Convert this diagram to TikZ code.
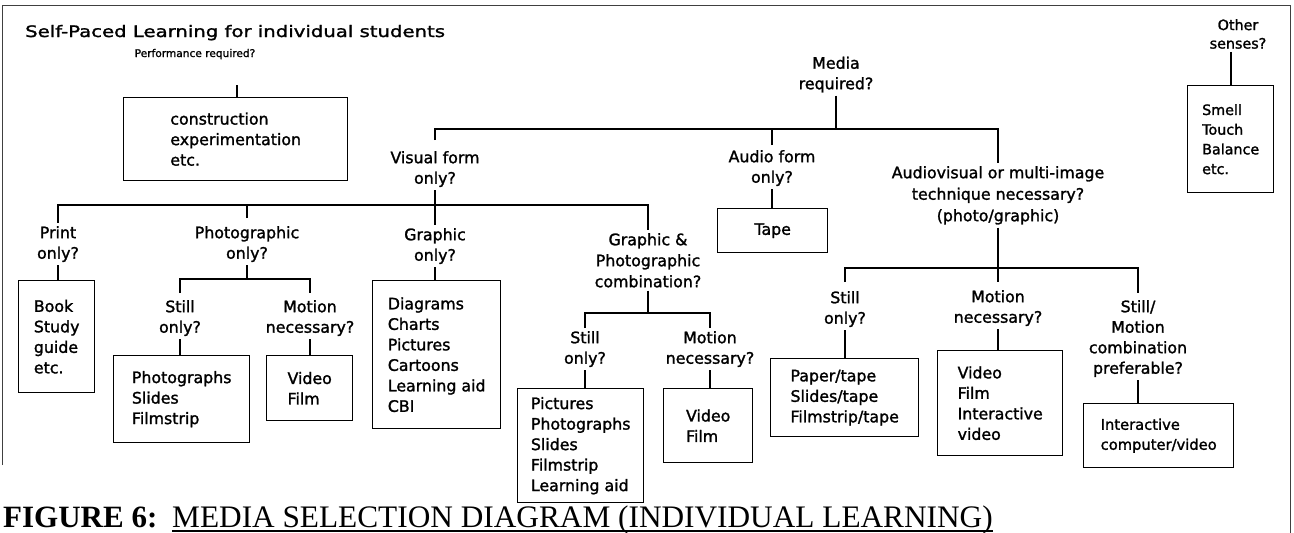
\documentclass[tikz,border=0pt]{standalone}
\usepackage{fontspec}
\setmainfont{DejaVu Sans}[FakeBold=1.5]
\newfontfamily\headfont[FakeStretch=1.245,FakeBold=1.5]{DejaVu Sans}
\newfontfamily\capfont{Liberation Serif}

\begin{document}
\begin{tikzpicture}[x=1pt,y=-1pt,
  conn/.style={line width=2.4pt},
  frame/.style={line width=0.9pt, black!75},
  lbl/.style={font=\fontsize{15.8}{20.5}\selectfont, align=center,
              inner xsep=2pt, inner ysep=3pt, anchor=north},
  boxnode/.style={draw, line width=1.4pt, align=left, inner sep=0pt,
                  anchor=north west, font=\fontsize{15.8}{20.5}\selectfont},
]
\useasboundingbox (0,0) rectangle (1294,533);

% outer frame
\draw[frame] (2,465) -- (2,5) -- (1290,5) -- (1290,533);

% heading
\node[anchor=base west, inner sep=0pt, font=\headfont\fontsize{15.8}{19}\selectfont]
  (title) at (25,37) {Self-Paced Learning for individual students};

% performance branch
\node[anchor=base, inner sep=2pt, font=\fontsize{10.6}{12}\selectfont]
  (q-perf) at (195,57) {Performance required?};
\node[boxnode, minimum width=224pt, minimum height=83pt] (perf) at (123,97)
  {construction\\experimentation\\etc.};
\coordinate (perf-stub) at (237,85);
\draw[conn] (perf-stub) -- (perf-stub |- perf.north);

% other senses
\node[lbl, font=\fontsize{14.3}{18.5}\selectfont] (q-other) at (1238,16) {Other\\senses?};
\node[boxnode, font=\fontsize{14.3}{19.7}\selectfont, minimum width=86pt, minimum height=107pt]
  (other) at (1187,85) {Smell\\Touch\\Balance\\etc.};
\draw[conn] (other.north |- q-other.south) -- (other.north);

% media required
\node[lbl] (q-media) at (836,53.5) {Media\\required?};
\coordinate (top-bar) at (0,129);
\draw[conn] (q-media.south) -- (q-media.south |- top-bar);

% first level questions
\node[lbl] (q-vis) at (435,148) {Visual form\\only?};
\node[lbl] (q-aud) at (772,147) {Audio form\\only?};
\node[lbl, font=\fontsize{15.8}{21.5}\selectfont] (q-av) at (998,163)
  {Audiovisual or multi-image\\technique necessary?\\(photo/graphic)};
\draw[conn, shorten <=8pt] (q-vis.north) -- (q-vis.north |- top-bar)
  -- (q-av.north |- top-bar) -- (q-av.north);
\draw[conn, shorten <=2pt] (q-aud.north) -- (q-aud.north |- top-bar);

% audio
\node[boxnode, align=center, minimum width=110pt, minimum height=44pt] (tape) at (717,208) {Tape};
\draw[conn] (q-aud.south) -- (q-aud.south |- tape.north);

% visual form
\coordinate (vis-bar) at (0,205);
\node[lbl] (q-print) at (58,223) {Print\\only?};
\node[lbl] (q-photo) at (247,223) {Photographic\\only?};
\node[lbl] (q-gra) at (435,225) {Graphic\\only?};
\node[lbl, font=\fontsize{15.8}{21}\selectfont] (q-gp) at (648,230)
  {Graphic \&\\Photographic\\combination?};
\draw[conn] (q-vis.south) -- (q-gra.north);
\draw[conn] (q-print.north) -- (q-print.north |- vis-bar)
  -- (q-gp.north |- vis-bar) -- (q-gp.north);
\draw[conn, shorten <=5pt] (q-photo.north) -- (q-photo.north |- vis-bar);

\node[boxnode, minimum width=76pt, minimum height=112pt] (print) at (18,280)
  {Book\\Study\\guide\\etc.};
\draw[conn] (q-print.south) -- (q-print.south |- print.north);

\node[boxnode, minimum width=128pt, minimum height=148pt] (gra) at (372,280)
  {Diagrams\\Charts\\Pictures\\Cartoons\\Learning aid\\CBI};
\draw[conn] (q-gra.south) -- (q-gra.south |- gra.north);

% photographic
\coordinate (ph-bar) at (0,279);
\node[lbl] (q-ph-still) at (180,297) {Still\\only?};
\node[lbl] (q-ph-mot) at (310,297) {Motion\\necessary?};
\draw[conn] (q-photo.south) -- (q-photo.south |- ph-bar);
\draw[conn, shorten <=4pt, shorten >=4pt] (q-ph-still.north) -- (q-ph-still.north |- ph-bar)
  -- (q-ph-mot.north |- ph-bar) -- (q-ph-mot.north);
\node[boxnode, minimum width=136pt, minimum height=87pt] (ph-still) at (113,355)
  {Photographs\\Slides\\Filmstrip};
\node[boxnode, minimum width=86pt, minimum height=65pt] (ph-mot) at (266,355)
  {Video\\Film};
\draw[conn] (q-ph-still.south) -- (q-ph-still.south |- ph-still.north);
\draw[conn] (q-ph-mot.south) -- (q-ph-mot.south |- ph-mot.north);

% graphic & photographic
\coordinate (gp-bar) at (0,313);
\node[lbl] (q-gp-still) at (585,328) {Still\\only?};
\node[lbl] (q-gp-mot) at (710,328) {Motion\\necessary?};
\draw[conn] (q-gp.south) -- (q-gp.south |- gp-bar);
\draw[conn] (q-gp-still.north) -- (q-gp-still.north |- gp-bar)
  -- (q-gp-mot.north |- gp-bar) -- (q-gp-mot.north);
\node[boxnode, minimum width=126pt, minimum height=114pt] (gp-still) at (517,388)
  {Pictures\\Photographs\\Slides\\Filmstrip\\Learning aid};
\node[boxnode, minimum width=89pt, minimum height=74pt] (gp-mot) at (663,388)
  {Video\\Film};
\draw[conn] (q-gp-still.south) -- (q-gp-still.south |- gp-still.north);
\draw[conn] (q-gp-mot.south) -- (q-gp-mot.south |- gp-mot.north);

% audiovisual
\coordinate (av-bar) at (0,268);
\node[lbl] (q-av-still) at (845,288) {Still\\only?};
\node[lbl] (q-av-mot) at (998,287) {Motion\\necessary?};
\node[lbl] (q-av-comb) at (1138,297) {Still/\\Motion\\combination\\preferable?};
\draw[conn, shorten >=5pt] (q-av.south) -- (q-av-mot.north);
\draw[conn, shorten <=6pt, shorten >=4pt] (q-av-still.north) -- (q-av-still.north |- av-bar)
  -- (q-av-comb.north |- av-bar) -- (q-av-comb.north);
\node[boxnode, minimum width=148pt, minimum height=78pt] (av-still) at (770,358)
  {Paper/tape\\Slides/tape\\Filmstrip/tape};
\node[boxnode, minimum width=125pt, minimum height=105pt] (av-mot) at (937,350)
  {Video\\Film\\Interactive\\video};
\node[boxnode, font=\fontsize{14.7}{20}\selectfont, minimum width=150pt, minimum height=64pt]
  (av-comb) at (1083,403) {Interactive\\computer/video};
\draw[conn] (q-av-still.south) -- (q-av-still.south |- av-still.north);
\draw[conn] (q-av-mot.south) -- (q-av-mot.south |- av-mot.north);
\draw[conn] (q-av-comb.south) -- (q-av-comb.south |- av-comb.north);

% caption
\node[anchor=base west, inner sep=0pt, font=\capfont\bfseries\fontsize{31}{36}\selectfont]
  (fig-no) at (3,527) {FIGURE 6:};
\node[anchor=base west, inner sep=0pt, font=\capfont\fontsize{31.3}{36}\selectfont]
  (fig-title) at (172,527) {MEDIA SELECTION DIAGRAM (INDIVIDUAL LEARNING)};
\draw[line width=1.3pt] ([yshift=-4pt]fig-title.base west) -- ([yshift=-4pt]fig-title.base east);
\end{tikzpicture}
\end{document}
